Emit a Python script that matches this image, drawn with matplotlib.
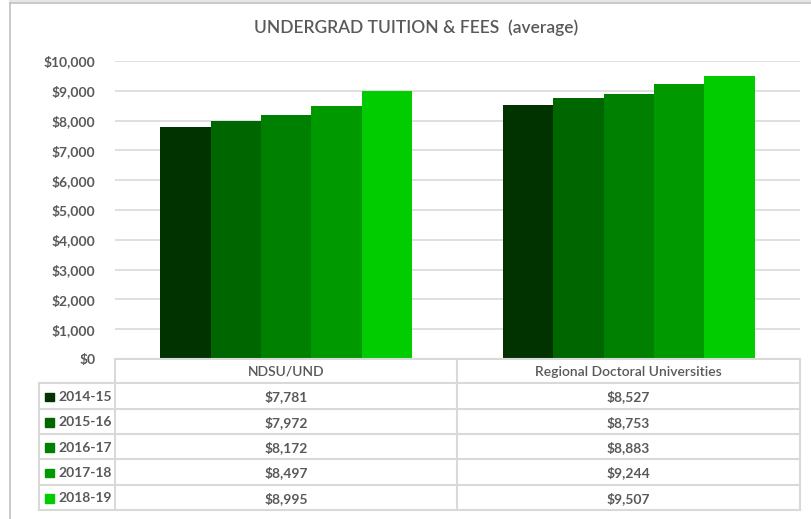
import matplotlib
matplotlib.use("Agg")
import matplotlib.pyplot as plt
from matplotlib.ticker import FuncFormatter
import numpy as np

plt.rcParams['font.family'] = ['Lato', 'DejaVu Sans']

title = "UNDERGRAD TUITION & FEES  (average)"
categories = ["NDSU/UND", "Regional Doctoral Universities"]
years = ["2014-15", "2015-16", "2016-17", "2017-18", "2018-19"]
values = {
    "2014-15": [7781, 8527],
    "2015-16": [7972, 8753],
    "2016-17": [8172, 8883],
    "2017-18": [8497, 9244],
    "2018-19": [8995, 9507],
}
colors = ["#003300", "#006600", "#008000", "#009900", "#00CC00"]
yticks = [0, 1000, 2000, 3000, 4000, 5000, 6000, 7000, 8000, 9000, 10000]

W, H = 811, 519
fig = plt.figure(figsize=(W / 100, H / 100), dpi=100)
text_col = "#595959"
grid_col = "#D9D9D9"

# plot area in pixels
px_l, px_r, px_t, px_b = 115, 800, 61, 359
ax = fig.add_axes([px_l / W, (H - px_b) / H, (px_r - px_l) / W, (px_b - px_t) / H])
ax.set_xlim(-0.5, len(categories) - 0.5)
ax.set_ylim(0, 10000)
bw = 0.147
x = np.arange(len(categories))
for i, (yr, c) in enumerate(zip(years, colors)):
    ax.bar(x + (i - 2) * bw, values[yr], width=bw, color=c, zorder=3, linewidth=0)
ax.set_yticks(yticks)
ax.yaxis.set_major_formatter(FuncFormatter(lambda v, p: f"${v:,.0f}"))
ax.tick_params(axis='y', length=0, pad=14, labelsize=10, labelcolor=text_col)
for lab in ax.get_yticklabels():
    lab.set_fontweight('bold')
ax.set_xticks([])
ax.grid(axis='y', color=grid_col, linewidth=1.2, zorder=0)
for s in ax.spines.values():
    s.set_visible(False)

# overlay in pixel coords
ov = fig.add_axes([0, 0, 1, 1], zorder=-1)
ov.set_xlim(0, W)
ov.set_ylim(H, 0)
ov.axis('off')

# chart frame
ov.plot([9.5, 9.5], [2.5, H], color="#BFBFBF", lw=1.2)
ov.plot([9.5, W], [2.5, 2.5], color="#BFBFBF", lw=1.2)
ov.plot([9.5, W], [1.2, 1.2], color="#E6E6E6", lw=1.5)

fig.text(416 / W, 1 - 28 / H, title, ha='center', va='center', fontsize=12.5,
         color=text_col, fontweight='semibold')

# data table
tb = fig.add_axes([0, 0, 1, 1], zorder=5)
tb.set_xlim(0, W)
tb.set_ylim(H, 0)
tb.axis('off')
tb.patch.set_alpha(0)
col_x = [39, 115, 457, 800]
row_y = [359, 383, 409, 434, 459, 485, 510]
lc = "#D9D9D9"
lw = 1.5
tb.plot([115, 800], [359, 359], color=lc, lw=lw)
for yy in row_y[1:]:
    tb.plot([39, 800], [yy, yy], color=lc, lw=lw)
for xx in col_x:
    y0 = 359 if xx != 39 else 383
    tb.plot([xx, xx], [y0, 510], color=lc, lw=lw)
for j, cat in enumerate(categories):
    tb.text((col_x[j + 1] + col_x[j + 2]) / 2, (row_y[0] + row_y[1]) / 2 + 1, cat,
            ha='center', va='center', fontsize=10, color=text_col,
            fontweight='semibold')
for i, yr in enumerate(years):
    yc = (row_y[i + 1] + row_y[i + 2]) / 2 + 1
    tb.add_patch(plt.Rectangle((45, yc - 4.5), 8.5, 8.5, color=colors[i]))
    tb.text(58, yc, yr, ha='left', va='center', fontsize=10, color=text_col,
            fontweight='bold')
    for j in range(len(categories)):
        tb.text((col_x[j + 1] + col_x[j + 2]) / 2, yc, f"${values[yr][j]:,}",
                ha='center', va='center', fontsize=10, color=text_col,
                fontweight='bold')

fig.savefig("out.png", dpi=100, facecolor='white')
